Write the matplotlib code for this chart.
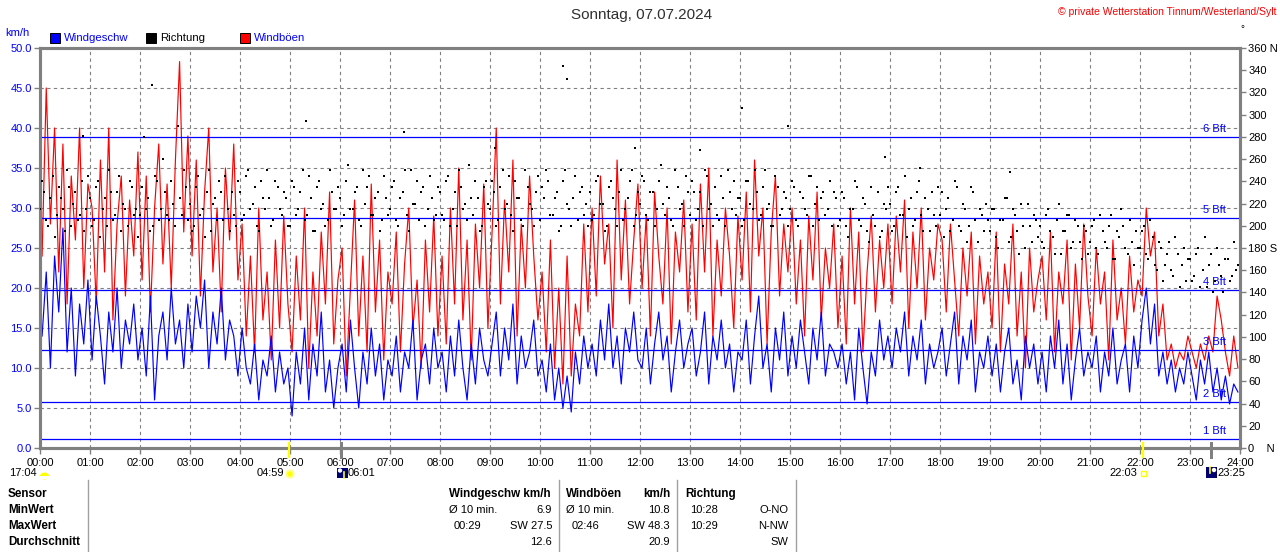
import numpy as np
import matplotlib
matplotlib.use("Agg")
import matplotlib.pyplot as plt
from matplotlib.patches import Rectangle, Circle, Ellipse
from matplotlib.lines import Line2D
from matplotlib.transforms import Affine2D

# 5-minute values (12 per hour, 00:00 .. 23:55)
wind_speed = [
    14, 22, 10, 24, 17, 27.5, 12, 20, 9, 18, 13, 21,
    11, 19, 14, 8, 17, 12, 20, 10, 16, 13, 18, 11,
    15, 9, 19, 6, 14, 17, 11, 20, 13, 16, 10, 18,
    12, 19, 15, 21, 10, 17, 13, 20, 11, 16, 14, 9,
    15, 10, 8, 13, 6, 11, 9, 14, 7, 12, 8, 10,
    4, 12, 8, 15, 6, 13, 9, 17, 7, 11, 5, 10,
    13, 7, 16, 10, 5, 12, 8, 15, 9, 13, 6, 11,
    9, 14, 7, 12, 10, 16, 6, 11, 13, 8, 15, 10,
    12, 7, 14, 9, 16, 10, 6, 13, 8, 15, 11, 9,
    13, 17, 9, 15, 11, 18, 8, 14, 10, 12, 16, 9,
    11, 7, 13, 6, 10, 5, 9, 4.5, 12, 8, 14, 10,
    13, 9, 16, 11, 18, 10, 14, 8, 15, 12, 17, 11,
    10, 15, 8, 13, 17, 11, 14, 7, 12, 16, 10, 13,
    15, 9, 12, 17, 8, 14, 11, 16, 10, 13, 7, 12,
    11, 16, 8, 14, 19, 10, 13, 7, 15, 11, 17, 9,
    14, 10, 16, 12, 8, 15, 11, 17, 9, 13, 12, 10,
    13, 8, 12, 6, 15, 10, 5.5, 12, 9, 16, 11, 14,
    10, 15, 12, 17, 9, 14, 11, 16, 8, 13, 10, 12,
    15, 9, 13, 17, 8, 14, 11, 16, 7, 12, 10, 14,
    9, 13, 7, 12, 15, 8, 11, 6, 14, 10, 13, 8,
    12, 7, 14, 10, 16, 8, 13, 6, 11, 15, 9, 12,
    10, 14, 7, 12, 9, 15, 8, 11, 13, 7, 14, 10,
    16, 20, 13, 18, 9, 12, 8, 11, 7, 10, 8, 12,
    9, 6, 11, 8, 12, 7, 10, 6, 9, 5.5, 8, 7,
]

gusts = [
    24, 45, 28, 40, 22, 38, 18, 34, 26, 40, 20, 33,
    30, 18, 36, 22, 40, 16, 28, 34, 19, 31, 24, 37,
    21, 34, 17, 30, 38, 23, 33, 20, 36, 48.3, 27, 39,
    24, 36, 19, 32, 40, 22, 30, 17, 35, 26, 38, 21,
    28, 14, 24, 12, 30, 16, 22, 11, 26, 15, 29, 18,
    12, 24, 16, 30, 10, 22, 14, 27, 18, 32, 13, 21,
    25, 9, 20, 31, 14, 24, 12, 33, 17, 26, 11, 22,
    18, 27, 12, 23, 30, 15, 21, 10, 26, 17, 29, 14,
    24, 13, 30, 18, 35, 16, 26, 11, 28, 20, 33, 15,
    27, 40, 18, 31, 22, 36, 14, 28, 20, 34, 24, 16,
    22, 12, 26, 10, 20, 8, 24, 9, 18, 14, 28, 17,
    30, 19, 34, 23, 28, 15, 36, 21, 31, 18, 26, 33,
    20, 29, 14, 32, 24, 18, 30, 13, 27, 22, 31, 17,
    28, 16, 33, 22, 35, 14, 26, 19, 30, 24, 15, 29,
    21, 32, 17, 36, 24, 30, 13, 27, 34, 19, 28, 22,
    30, 18, 26, 14, 29, 21, 32, 16, 25, 20, 28, 15,
    24, 13, 30, 18, 27, 12, 22, 29, 17, 26, 20, 28,
    18, 29, 22, 31, 15, 27, 20, 30, 16, 25, 21, 28,
    26, 17, 28, 21, 14, 25, 19, 27, 13, 24, 18, 22,
    15, 27, 12, 23, 18, 28, 14, 22, 10, 25, 17, 21,
    24, 16, 27, 12, 22, 18, 26, 11, 23, 15, 28, 19,
    14, 25, 18, 22, 11, 26, 16, 20, 13, 24, 17, 21,
    19, 30, 24, 27, 14, 18, 11, 13, 10, 12, 11, 14,
    12, 10, 13, 11, 14, 12, 19, 16, 12, 9, 14, 10,
]

# wind direction in degrees, two readings per 5-minute slot
direction_a = [
    215, 230, 200, 245, 210, 225, 195, 235, 220, 205, 240, 215,
    225, 205, 240, 215, 200, 230, 210, 245, 220, 200, 235, 215,
    210, 280, 225, 200, 240, 215, 230, 205, 220, 290, 210, 235,
    220, 200, 245, 215, 230, 195, 225, 240, 205, 215, 230, 200,
    230, 210, 250, 220, 200, 240, 215, 225, 205, 235, 210, 225,
    200, 235, 215, 250, 210, 225, 195, 240, 220, 205, 230, 215,
    225, 210, 255, 215, 235, 200, 220, 245, 210, 230, 205, 225,
    215, 240, 200, 230, 210, 250, 220, 205, 235, 215, 225, 210,
    230, 205, 245, 215, 200, 235, 220, 255, 210, 225, 200, 240,
    215, 230, 205, 250, 220, 210, 240, 225, 200, 235, 215, 230,
    205, 225, 240, 210, 230, 200, 250, 215, 225, 205, 235, 220,
    230, 210, 245, 220, 200, 240, 215, 230, 205, 225, 250, 210,
    220, 240, 205, 230, 215, 255, 210, 225, 200, 235, 220, 245,
    210, 230, 215, 200, 245, 220, 235, 205, 225, 250, 215, 210,
    225, 205, 240, 215, 230, 210, 250, 220, 200, 235, 215, 225,
    215, 235, 200, 225, 210, 245, 220, 205, 230, 215, 200, 225,
    205, 225, 190, 215, 235, 200, 220, 185, 210, 230, 195, 215,
    220, 200, 235, 210, 190, 225, 205, 240, 195, 215, 230, 200,
    210, 190, 225, 205, 235, 195, 215, 200, 230, 185, 210, 220,
    195, 215, 180, 205, 225, 190, 210, 175, 200, 220, 185, 205,
    200, 180, 215, 190, 205, 175, 195, 210, 185, 200, 170, 195,
    185, 205, 175, 195, 180, 210, 170, 190, 200, 175, 185, 195,
    180, 200, 170, 190, 160, 180, 165, 185, 155, 175, 165, 150,
    170, 155, 180, 160, 145, 175, 150, 165, 140, 170, 155, 160,
]

direction_b = [
    240, 205, 225, 190, 235, 215, 250, 200, 230, 210, 195, 245,
    200, 235, 190, 225, 250, 205, 230, 195, 215, 240, 210, 190,
    235, 215, 195, 245, 205, 260, 210, 240, 200, 225, 250, 205,
    195, 235, 210, 190, 250, 220, 205, 230, 245, 195, 210, 240,
    205, 245, 215, 235, 195, 225, 250, 200, 240, 215, 230, 200,
    240, 210, 230, 205, 245, 195, 235, 215, 200, 250, 215, 235,
    200, 240, 215, 230, 205, 250, 235, 210, 225, 195, 245, 210,
    235, 205, 225, 250, 195, 220, 240, 230, 200, 245, 205, 235,
    210, 240, 200, 230, 250, 215, 205, 225, 240, 195, 235, 220,
    240, 200, 235, 215, 245, 195, 225, 205, 250, 220, 200, 245,
    235, 250, 210, 225, 195, 240, 220, 200, 245, 230, 210, 200,
    205, 240, 220, 195, 235, 225, 200, 250, 215, 240, 200, 230,
    245, 210, 230, 200, 240, 220, 235, 205, 250, 215, 200, 230,
    240, 205, 230, 250, 215, 200, 210, 245, 200, 230, 240, 225,
    200, 240, 220, 250, 205, 235, 215, 200, 245, 210, 230, 200,
    240, 205, 230, 215, 245, 200, 235, 225, 210, 240, 230, 200,
    230, 200, 215, 240, 205, 225, 195, 235, 200, 190, 220, 235,
    195, 230, 210, 245, 215, 200, 230, 210, 225, 195, 210, 235,
    230, 215, 195, 240, 200, 220, 185, 235, 205, 215, 195, 205,
    215, 190, 205, 225, 185, 215, 195, 220, 180, 200, 210, 190,
    185, 210, 195, 175, 220, 195, 210, 180, 205, 185, 200, 175,
    200, 180, 210, 185, 200, 170, 195, 215, 180, 205, 165, 180,
    195, 175, 205, 165, 185, 150, 175, 160, 190, 145, 180, 170,
    150, 175, 145, 190, 165, 140, 180, 155, 170, 150, 185, 165,
]

# isolated direction readings away from the main cloud (hour, degrees)
dir_outlier_hours = [0.86, 2.24, 5.32, 7.28, 9.1, 10.46, 10.54, 11.9, 13.2, 14.04, 14.96, 16.9, 17.6, 19.4]
dir_outlier_deg = [281, 327, 294, 284, 270, 344, 332, 270, 268, 306, 290, 262, 252, 248]

bft_levels = [1.1, 5.8, 12.2, 19.8, 28.8, 38.9]
bft_labels = ["1 Bft", "2 Bft", "3 Bft", "4 Bft", "5 Bft", "6 Bft"]

hour_labels = ["%02d:00" % h for h in range(25)]

BLUE = "#0000ff"
RED = "#ff0000"
GRAY = "#808080"
SANS = ["Liberation Sans", "DejaVu Sans"]
plt.rcParams["font.family"] = SANS

fig = plt.figure(figsize=(12.8, 5.52), dpi=100)
fig.patch.set_facecolor("white")
# pixel coordinates measured from the top-left corner
pix = Affine2D().scale(1 / 1280, -1 / 552).translate(0, 1) + fig.transFigure

ax = fig.add_axes([40 / 1280, 104 / 552, 1200 / 1280, 400 / 552])
ax.set_xlim(0, 24)
ax.set_ylim(0, 50)

t = np.arange(len(wind_speed)) * 5 / 60 + 2.5 / 60

ax.plot(t, gusts, color=RED, lw=0.85, zorder=2)
ax.plot(t, wind_speed, color=BLUE, lw=0.85, zorder=2.5)

for lev, lab in zip(bft_levels, bft_labels):
    ax.axhline(lev, color=BLUE, lw=0.9, zorder=3)
    ax.annotate(lab, (23.72, lev), xytext=(0, 8), textcoords="offset pixels",
                ha="right", va="center", color=BLUE, fontsize=8, zorder=3)

ax.set_xticks(range(25))
ax.set_xticklabels(hour_labels, fontsize=8)
ax.set_yticks(np.arange(0, 50.1, 5))
ax.set_yticklabels(["%.1f" % v for v in np.arange(0, 50.1, 5)], fontsize=8, color=BLUE)
ax.grid(True, color=GRAY, lw=0.8, linestyle=(0, (3, 3)))
ax.tick_params(axis="both", color=GRAY, length=4, width=1, pad=2)
ax.tick_params(axis="x", pad=3)

ax2 = ax.twinx()
ax2.set_ylim(0, 360)
dot = dict(s=4.5, marker="s", c="black", lw=0, zorder=4, antialiased=False)
ax2.scatter(t - 2.5 / 60, direction_a, **dot)
ax2.scatter(t, direction_b, **dot)
ax2.scatter(dir_outlier_hours, dir_outlier_deg, **dot)
deg_ticks = list(range(0, 361, 20))
deg_labels = [str(d) for d in deg_ticks]
deg_labels[0] = "0    N"
deg_labels[9] = "180 S"
deg_labels[18] = "360 N"
ax2.set_yticks(deg_ticks)
ax2.set_yticklabels(deg_labels, fontsize=8)
ax2.tick_params(axis="y", color=GRAY, length=4, width=1, pad=2)

for a in (ax, ax2):
    for side in ("left", "right", "bottom", "top"):
        a.spines[side].set_color(GRAY)
        a.spines[side].set_linewidth(2.2)

# header texts
fig.text(642, 15, "Sonntag, 07.07.2024", transform=pix, ha="center", va="center",
         fontsize=11, color="#303030")
fig.text(1276, 12, "\u00a9 private Wetterstation Tinnum/Westerland/Sylt", transform=pix,
         ha="right", va="center", fontsize=7.5, color=RED)
fig.text(1242, 29, "\u00b0", transform=pix, ha="center", va="center", fontsize=7, color="black")
fig.text(5, 33, "km/h", transform=pix, ha="left", va="center", fontsize=8, color=BLUE)

legend_items = [(50, BLUE, "Windgeschw", BLUE), (146, "black", "Richtung", "black"),
                (240, RED, "Windb\u00f6en", BLUE)]
for x0, col, lab, tcol in legend_items:
    fig.add_artist(Rectangle((x0, 33), 10, 10, transform=pix, facecolor=col,
                             edgecolor="black", lw=0.7))
    fig.text(x0 + 14, 38, lab, transform=pix, ha="left", va="center", fontsize=8.2, color=tcol)

# sun / moon markers on the time axis
for xm, col, w in [(288.7, "#ffff00", 2.2), (1142.7, "#ffff00", 2.2), (341, GRAY, 3), (1210.7, GRAY, 3)]:
    fig.add_artist(Line2D([xm, xm], [443, 457], transform=pix, color=col, lw=w * 0.72))

ev_font = dict(transform=pix, va="center", fontsize=8, color="black")
fig.text(37, 473, "17:04", ha="right", **ev_font)
fig.add_artist(Ellipse((44.5, 476), 9, 7, transform=pix, facecolor="#ffff00", edgecolor="none"))
fig.add_artist(Rectangle((39, 476), 12, 3, transform=pix, facecolor="white", edgecolor="none"))
fig.text(284, 473, "04:59", ha="right", **ev_font)
fig.add_artist(Circle((290, 474), 3.5, transform=pix, facecolor="#ffff00", edgecolor="#ffff80", lw=1.5))
fig.add_artist(Rectangle((337, 468), 11, 10, transform=pix, facecolor="#00006e", edgecolor="none"))
fig.add_artist(Circle((340, 470.5), 2.2, transform=pix, facecolor="white", edgecolor="none"))
fig.add_artist(Line2D([344, 344], [472, 478], transform=pix, color="#ffff00", lw=1.2))
fig.text(348, 473, "06:01", ha="left", **ev_font)
fig.text(1137, 473, "22:03", ha="right", **ev_font)
fig.add_artist(Rectangle((1140.5, 471), 5, 5, transform=pix, facecolor="none", edgecolor="#ffff00", lw=1))
fig.add_artist(Rectangle((1206, 467), 11, 11, transform=pix, facecolor="#00006e", edgecolor="none"))
fig.add_artist(Circle((1214, 470), 2.2, transform=pix, facecolor="white", edgecolor="none"))
fig.add_artist(Line2D([1209.5, 1209.5], [467, 473], transform=pix, color="#ffff00", lw=1.2))
fig.text(1217, 473, "23:25", ha="left", **ev_font)

# statistics table
for xs in (88, 559, 677, 796):
    fig.add_artist(Line2D([xs, xs], [480, 552], transform=pix, color="#a0a0a0", lw=1))

rows_y = [494, 510, 526, 542]
bold = dict(transform=pix, va="center", fontsize=8.4, weight="bold", color="black")
reg = dict(transform=pix, va="center", fontsize=8, color="black")
for y, lab in zip(rows_y, ["Sensor", "MinWert", "MaxWert", "Durchschnitt"]):
    fig.text(8, y, lab, ha="left", **bold)

fig.text(449, rows_y[0], "Windgeschw km/h", ha="left", **bold)
fig.text(449, rows_y[1], "\u00d8 10 min.", ha="left", **reg)
fig.text(552, rows_y[1], "6.9", ha="right", **reg)
fig.text(454, rows_y[2], "00:29", ha="left", **reg)
fig.text(552, rows_y[2], "SW 27.5", ha="right", **reg)
fig.text(552, rows_y[3], "12.6", ha="right", **reg)

fig.text(566, rows_y[0], "Windb\u00f6en", ha="left", **bold)
fig.text(671, rows_y[0], "km/h", ha="right", **bold)
fig.text(566, rows_y[1], "\u00d8 10 min.", ha="left", **reg)
fig.text(670, rows_y[1], "10.8", ha="right", **reg)
fig.text(572, rows_y[2], "02:46", ha="left", **reg)
fig.text(670, rows_y[2], "SW 48.3", ha="right", **reg)
fig.text(670, rows_y[3], "20.9", ha="right", **reg)

fig.text(685, rows_y[0], "Richtung", ha="left", **bold)
fig.text(690, rows_y[1], "10:28", ha="left", **reg)
fig.text(788, rows_y[1], "O-NO", ha="right", **reg)
fig.text(690, rows_y[2], "10:29", ha="left", **reg)
fig.text(788, rows_y[2], "N-NW", ha="right", **reg)
fig.text(788, rows_y[3], "SW", ha="right", **reg)

fig.savefig("out.png", dpi=100)
